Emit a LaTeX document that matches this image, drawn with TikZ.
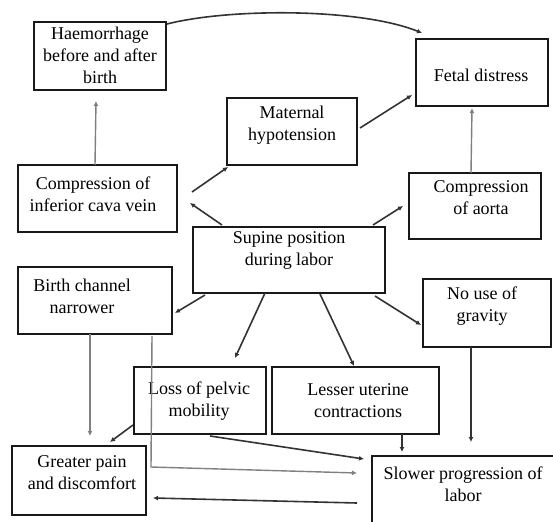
\documentclass[tikz,border=0pt]{standalone}
\usepackage{fontspec}
\setmainfont{Liberation Serif}
\usetikzlibrary{calc,arrows.meta}
\begin{document}
\begin{tikzpicture}[x=1pt,y=-1pt,
  box/.style={draw=black!90,line width=2.6pt,inner sep=0pt,outer sep=0pt,anchor=north west,fill=white},
  txt/.style={align=center,inner sep=0pt,font=\fontsize{18}{22}\selectfont},
  conn/.style={draw=black!80,line width=1.6pt,-{Latex[length=5pt,width=5pt]}},
  connl/.style={draw=black!50,line width=1.4pt,-{Latex[length=5pt,width=5pt]}}]
\clip (0,0) rectangle (553,521);
\fill[white] (0,0) rectangle (553,521);
% boxes
\node[box,minimum width=132,minimum height=68] (haem) at (34,22) {};
\node[box,minimum width=132,minimum height=67] (fetal) at (416,39) {};
\node[box,minimum width=130,minimum height=67] (mat) at (227,98) {};
\node[box,minimum width=159,minimum height=67] (cava) at (18,165) {};
\node[box,minimum width=192,minimum height=66] (sup) at (193,227) {};
\node[box,minimum width=132,minimum height=66] (aorta) at (409,173) {};
\node[box,minimum width=154,minimum height=67] (birth) at (18,267) {};
\node[box,minimum width=128,minimum height=68] (grav) at (423,279) {};
\node[box,minimum width=132,minimum height=67] (pelvic) at (134,367) {};
\node[box,minimum width=167,minimum height=67] (lesser) at (272,367) {};
\node[box,minimum width=134,minimum height=69] (pain) at (12,446) {};
\node[box,minimum width=190,minimum height=80] (slow) at (372,456) {};
% texts
\node[txt] (haemt) at (100,55) {Haemorrhage\\before and after\\birth};
\node[txt] (fetalt) at (481,75) {Fetal distress};
\node[txt] (matt) at (292,125) {Maternal\\hypotension};
\node[txt] (cavat) at (93,194) {Compression of\\inferior cava vein};
\node[txt] (supt) at (289,250) {Supine position\\during labor};
\node[txt] (aortat) at (481,198) {Compression\\of aorta};
\node[txt] (birtht) at (82,296) {Birth channel\\narrower};
\node[txt] (gravt) at (482,306) {No use of\\gravity};
\node[txt] (pelvict) at (199,401) {Loss of pelvic\\mobility};
\node[txt] (lessert) at (358,401) {Lesser uterine\\contractions};
\node[txt] (paint) at (82,473) {Greater pain\\and discomfort};
\node[txt] (slowt) at (463,484) {Slower progression of\\labor};
% connectors
\draw[conn] ($(haem.north east)+(1,2)$) .. controls (230,8) and (360,8) .. ($(fetal.north west)+(6,-6)$);
\draw[connl] ($(cava.north)+(-2.5,0)$) -- ($(haem.south)+(-4,11)$);
\draw[conn] ($(cava.east)+(15,-6.5)$) -- ($(mat.south west)+(1,2)$);
\draw[conn] ($(sup.north west)+(29,-2)$) -- ($(cava.east)+(13,4.5)$);
\draw[conn] ($(mat.east)+(3,-3.5)$) -- ($(fetal.west)+(-4,22.5)$);
\draw[connl] ($(aorta.north)+(-4,0)$) -- ($(fetal.south)+(-10,2)$);
\draw[conn] ($(sup.north east)+(-12,-2)$) -- ($(aorta.west)+(-6,0)$);
\draw[conn] ($(sup.south west)+(12,2)$) -- ($(birth.east)+(3,12.5)$);
\draw[conn] ($(sup.south west)+(72,0)$) -- ($(pelvic.north)+(35,-9)$);
\draw[conn] ($(sup.south west)+(127,1)$) -- ($(lesser.north)+(-1.5,-1)$);
\draw[conn] ($(sup.south east)+(-10,3)$) -- ($(grav.west)+(-2,12)$);
\draw[connl] ($(birth.south)+(-5,0)$) -- ($(pain.north)+(11,-10)$);
\draw[connl] ($(birth.south east)+(-20,2)$) -- ($(birth.south east)+(-21,133)$) -- ($(slow.north west)+(-15,17)$);
\draw[conn] ($(pelvic.south west)+(-1,-9)$) -- ($(pain.north)+(31,-4)$);
\draw[conn] ($(pelvic.south)+(10,2)$) -- ($(slow.north west)+(-8,3)$);
\draw[conn] ($(lesser.south)+(46.5,0)$) -- ($(slow.north west)+(30,-4)$);
\draw[conn] ($(grav.south)+(-16,0)$) -- ($(slow.north west)+(99,-14)$);
\draw[conn] ($(slow.north west)+(-15,47)$) -- ($(pain.east)+(7,17.5)$);
\end{tikzpicture}
\end{document}
